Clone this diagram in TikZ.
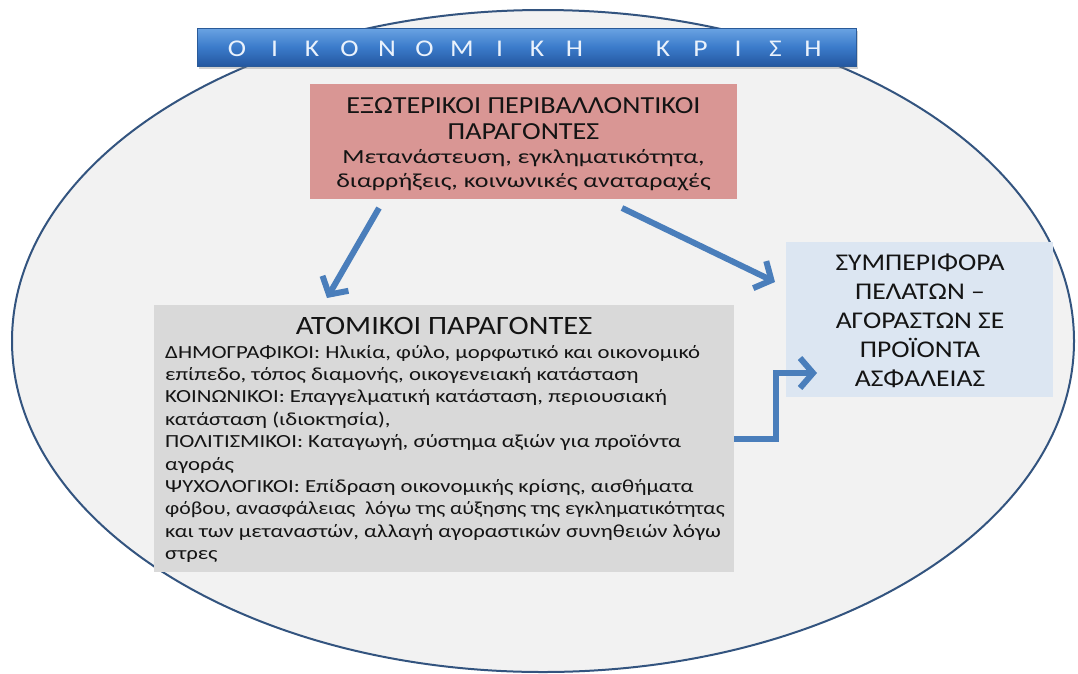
\documentclass[tikz,border=0pt]{standalone}
\usepackage{fontspec}
\setmainfont[FakeStretch=1.15]{Carlito}
\newfontfamily\fwide[FakeStretch=1.3]{Carlito}
\newfontfamily\fbody[FakeStretch=1.23]{Carlito}
\usetikzlibrary{arrows.meta,shadows,calc}
\definecolor{ellfill}{HTML}{F2F2F2}
\definecolor{elldraw}{HTML}{33547F}
\definecolor{redboxc}{HTML}{D99694}
\definecolor{greyboxc}{HTML}{D9D9D9}
\definecolor{blueboxc}{HTML}{DCE6F2}
\definecolor{arrowblue}{HTML}{4A7EBB}
\definecolor{txt}{HTML}{141414}
\definecolor{bantop}{HTML}{6AA3E3}
\definecolor{banmid}{HTML}{3B7BCA}
\definecolor{banbot}{HTML}{2457A0}
\definecolor{banedge}{HTML}{2A5A98}
\definecolor{bantext}{HTML}{EAF2FC}
\newcommand\bl[1]{\makebox[37.5pt]{#1}}
\begin{document}
\begin{tikzpicture}[x=1pt,y=-1pt,
  panel/.style={draw=none, inner sep=0pt},
  line/.style={anchor=base, inner sep=0pt, text=txt},
  redtitle/.style={line, font=\fontsize{24.5}{27}\selectfont},
  redsub/.style={line, font=\fwide\fontsize{20}{23}\selectfont},
  greyhead/.style={line, font=\fontsize{26.5}{30}\selectfont},
  greybody/.style={line, anchor=base west, font=\fbody\fontsize{18.5}{22.4}\selectfont},
  bluetext/.style={line, font=\fontsize{24}{29}\selectfont},
  flow/.style={draw=arrowblue, line width=6pt, line join=miter,
    -{Straight Barb[length=13pt,width=30pt]}}
]
\useasboundingbox (0,0) rectangle (1078,673);
\fill[white] (0,0) rectangle (1078,673);
\draw[elldraw, fill=ellfill, line width=2pt] (543,341) ellipse [x radius=531, y radius=331];

% banner
\node[panel, minimum width=659pt, minimum height=38pt,
  top color=bantop, bottom color=banbot, middle color=banmid, draw=banedge, line width=0.8pt,
  drop shadow={opacity=0.35, shadow xshift=1pt, shadow yshift=-3pt}] (banner) at (527,47) {};
\node[anchor=base, inner sep=0pt, text=bantext, font=\fontsize{24}{27}\selectfont] (bantxt) at (525,56.5)
  {\bl{Ο}\bl{Ι}\bl{Κ}\bl{Ο}\bl{Ν}\bl{Ο}\bl{Μ}\bl{Ι}\bl{Κ}\bl{Η}\hspace{51pt}\bl{Κ}\bl{Ρ}\bl{Ι}\bl{Σ}\bl{Η}};

% red box
\node[panel, fill=redboxc, minimum width=427pt, minimum height=115pt] (red) at (523.5,141.5) {};
\node[redtitle] (rt1) at (523.5,113) {ΕΞΩΤΕΡΙΚΟΙ ΠΕΡΙΒΑΛΛΟΝΤΙΚΟΙ};
\node[redtitle] (rt2) at (523.5,139) {ΠΑΡΑΓΟΝΤΕΣ};
\node[redsub] (rs1) at (523.5,163) {Μετανάστευση, εγκληματικότητα,};
\node[redsub] (rs2) at (523.5,187) {διαρρήξεις, κοινωνικές αναταραχές};

% grey box
\node[panel, fill=greyboxc, minimum width=580pt, minimum height=267pt] (grey) at (444,438.5) {};
\node[greyhead] (gh) at (444,334) {ΑΤΟΜΙΚΟΙ ΠΑΡΑΓΟΝΤΕΣ};
\node[greybody] (g1) at (165,358) {ΔΗΜΟΓΡΑΦΙΚΟΙ: Ηλικία, φύλο, μορφωτικό και οικονομικό};
\node[greybody] (g2) at (165,380.4) {επίπεδο, τόπος διαμονής, οικογενειακή κατάσταση};
\node[greybody] (g3) at (165,402.8) {ΚΟΙΝΩΝΙΚΟΙ: Επαγγελματική κατάσταση, περιουσιακή};
\node[greybody] (g4) at (165,425.2) {κατάσταση (ιδιοκτησία),};
\node[greybody] (g5) at (165,447.6) {ΠΟΛΙΤΙΣΜΙΚΟΙ: Καταγωγή, σύστημα αξιών για προϊόντα};
\node[greybody] (g6) at (165,470) {αγοράς};
\node[greybody] (g7) at (165,492.4) {ΨΥΧΟΛΟΓΙΚΟΙ: Επίδραση οικονομικής κρίσης, αισθήματα};
\node[greybody] (g8) at (165,514.8) {\scalebox{0.955}[1]{φόβου, ανασφάλειας\ \ λόγω της αύξησης της εγκληματικότητας}};
\node[greybody] (g9) at (165,537.2) {και των μεταναστών, αλλαγή αγοραστικών συνηθειών λόγω};
\node[greybody] (g10) at (165,559.6) {στρες};

% blue box
\node[panel, fill=blueboxc, minimum width=267pt, minimum height=155pt] (blue) at (919.5,319.5) {};
\node[bluetext] (b1) at (920,270) {ΣΥΜΠΕΡΙΦΟΡΑ};
\node[bluetext] (b2) at (920,299) {ΠΕΛΑΤΩΝ –};
\node[bluetext] (b3) at (920,328) {ΑΓΟΡΑΣΤΩΝ ΣΕ};
\node[bluetext] (b4) at (920,357) {ΠΡΟΪΟΝΤΑ};
\node[bluetext] (b5) at (920,386) {ΑΣΦΑΛΕΙΑΣ};

% arrows
\coordinate (a1s) at (379,208);
\coordinate (a1e) at (327,298);
\coordinate (a2s) at (622,208);
\coordinate (a2e) at (775,282);
\coordinate (a3e) at (817,373);
\draw[flow] (a1s) -- (a1e);
\draw[flow] (a2s) -- (a2e);
\draw[flow] (grey.east) -- ++(42,0) |- (a3e);
\end{tikzpicture}
\end{document}
